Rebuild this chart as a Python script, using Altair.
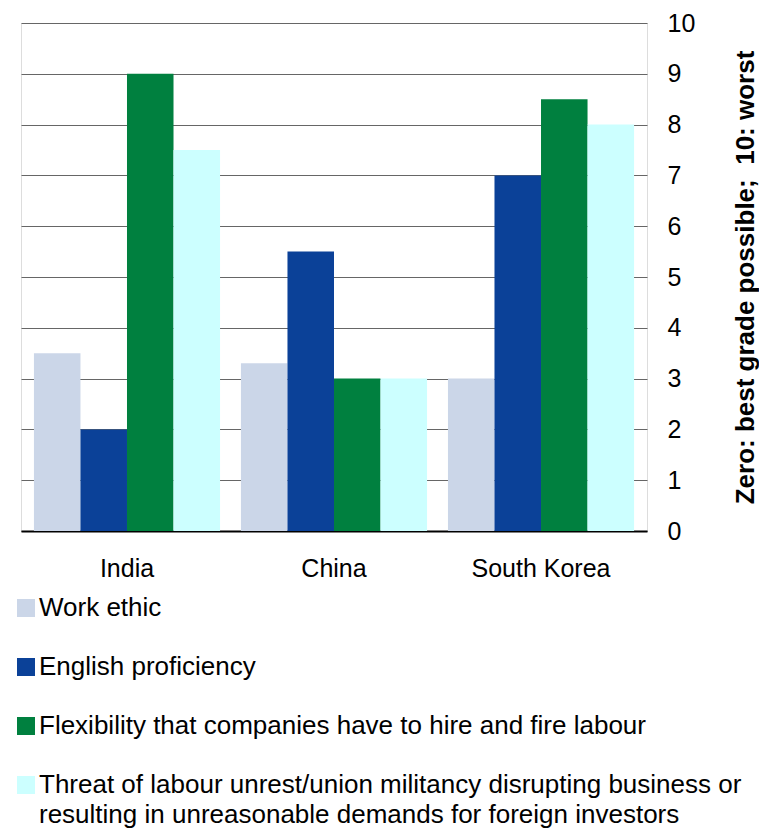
import altair as alt
import pandas as pd

countries = ["India", "China", "South Korea"]
series = [
    "Work ethic",
    "English proficiency",
    "Flexibility that companies have to hire and fire labour",
    "Threat of labour unrest/union militancy disrupting business or resulting in unreasonable demands for foreign investors",
]
work_ethic = [3.5, 3.3, 3.0]
english = [2.0, 5.5, 7.0]
flexibility = [9.0, 3.0, 8.5]
threat = [7.5, 3.0, 8.0]
colors = ["#CBD6E8", "#0B4198", "#00803F", "#CCFFFF"]
y_ticks = list(range(0, 11))
y_title = "Zero: best grade possible;\u00a0 10: worst"

rows = []
for i, c in enumerate(countries):
    for s, vals in zip(series, [work_ethic, english, flexibility, threat]):
        rows.append({"Country": c, "Series": s, "Score": vals[i]})
df = pd.DataFrame(rows)

font = "Liberation Sans, Arial, Helvetica, sans-serif"
split_at = series[3].index(" resulting")
label_expr = (
    f"length(datum.label) > {split_at + 5} ? "
    f"[substring(datum.label, 0, {split_at}), substring(datum.label, {split_at + 1})] : datum.label"
)

chart = (
    alt.Chart(df)
    .mark_bar()
    .encode(
        x=alt.X(
            "Country:N",
            sort=countries,
            scale=alt.Scale(paddingInner=0.101, paddingOuter=0.0625),
            axis=alt.Axis(
                title=None,
                labelAngle=0,
                labelFontSize=25,
                labelFont=font,
                labelColor="#000000",
                ticks=False,
                labelPadding=25,
                domainColor="#000000",
                domainWidth=2,
                grid=False,
            ),
        ),
        xOffset=alt.XOffset("Series:N", sort=series, scale=alt.Scale(paddingInner=0, paddingOuter=0)),
        y=alt.Y(
            "Score:Q",
            scale=alt.Scale(domain=[0, 10], nice=False),
            axis=alt.Axis(
                orient="right",
                values=y_ticks,
                title=y_title,
                titleAngle=270,
                titleBaseline="top",
                titleFontSize=26,
                titleFont=font,
                titleFontWeight="bold",
                titleColor="#000000",
                titlePadding=38,
                labelFontSize=25,
                labelFont=font,
                labelColor="#000000",
                labelPadding=20,
                domain=False,
                ticks=False,
                grid=True,
                gridColor="#666666",
                gridWidth=1,
            ),
        ),
        color=alt.Color(
            "Series:N",
            sort=series,
            scale=alt.Scale(domain=series, range=colors),
            legend=alt.Legend(
                orient="none",
                legendX=-8,
                legendY=572,
                direction="vertical",
                title=None,
                symbolType="square",
                symbolSize=324,
                symbolStrokeWidth=0,
                symbolOpacity=1,
                labelFontSize=26,
                labelFont=font,
                labelColor="#000000",
                labelLimit=1000,
                labelOffset=0,
                rowPadding=33,
                padding=0,
                labelExpr=label_expr,
            ),
        ),
    )
    .properties(
        width=626,
        height=508,
        padding={"left": 5, "top": 3, "right": 0, "bottom": 0},
    )
    .configure_view(stroke=None)
    .configure(background="white", style={"guide-label": {"lineHeight": 30}})
)

chart.save("out.html", embed_options={"renderer": "svg", "actions": False})
